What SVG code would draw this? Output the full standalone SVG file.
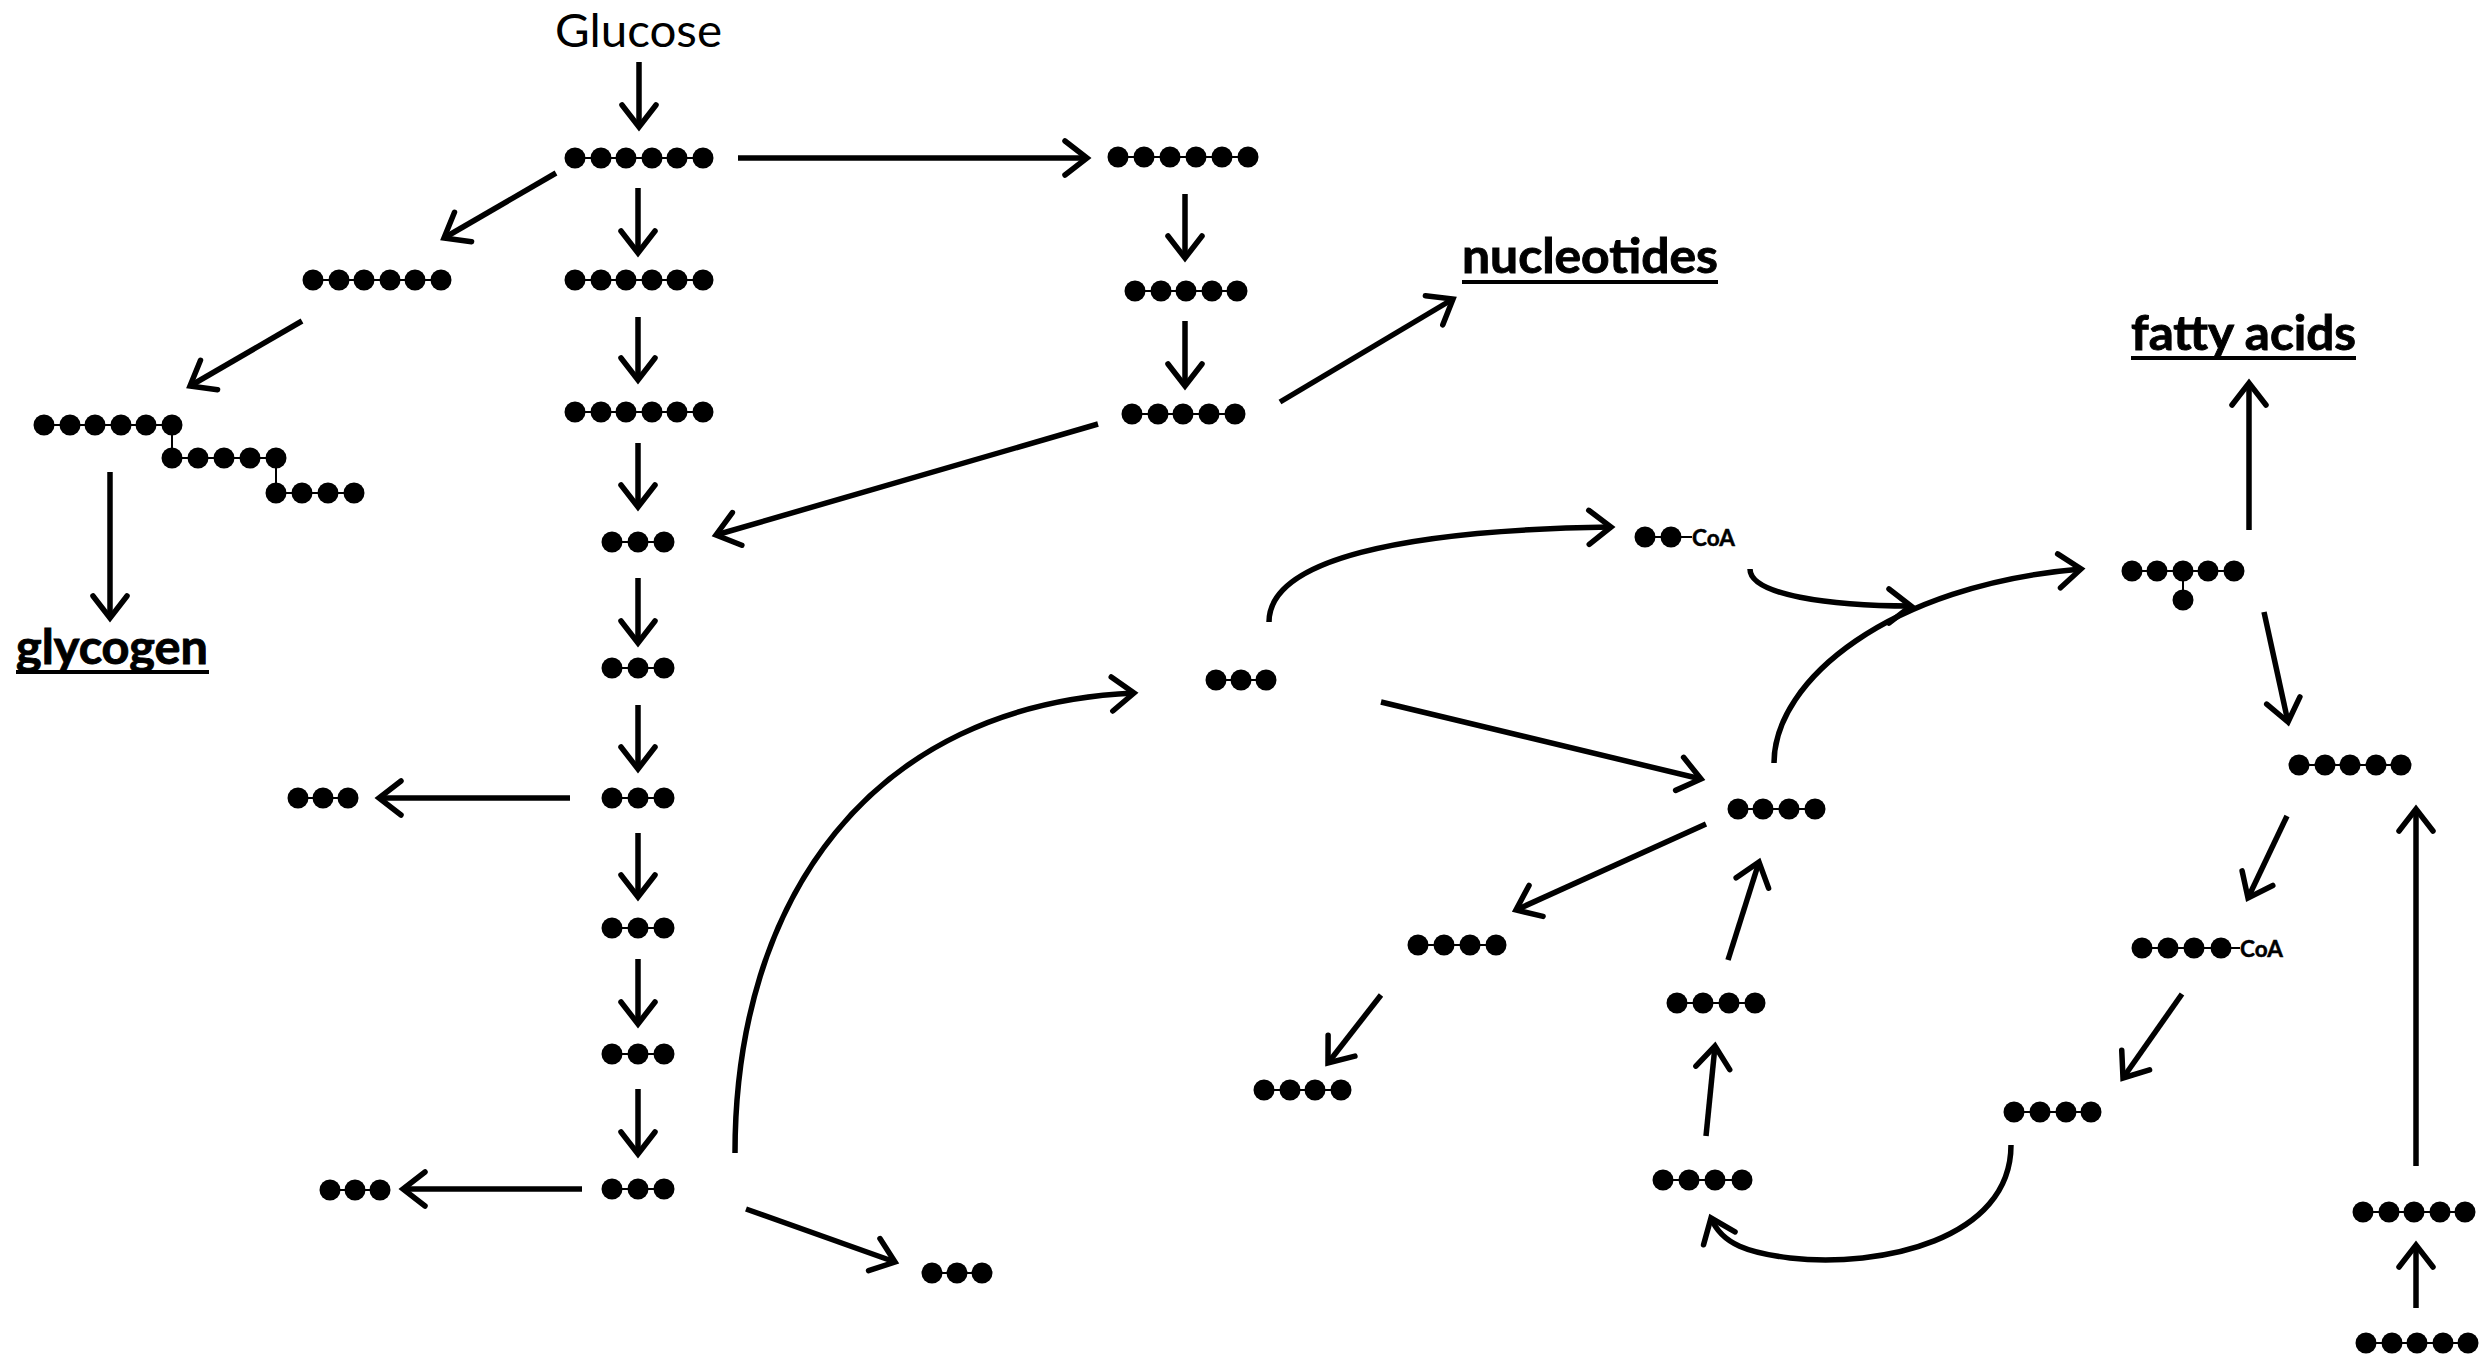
<svg xmlns="http://www.w3.org/2000/svg" width="2488" height="1366" viewBox="0 0 2488 1366">
  <defs>
    <style>
      .bond { stroke: #000; stroke-width: 2; }
      .atom { fill: #000; }
      .arrow { fill: none; stroke: #000; stroke-width: 5.5; marker-end: url(#head); }
      .label { font-family: Lato, "Open Sans", "Liberation Sans", sans-serif; fill: #000; }
      .big { font-size: 47px; }
      .bold { font-weight: bold; stroke: #000; stroke-width: 0.9; }
      .coa { font-size: 23px; font-weight: bold; stroke: #000; stroke-width: 0.5; }
    </style>
    <marker id="head" markerUnits="userSpaceOnUse" orient="auto" refX="0" refY="0" markerWidth="40" markerHeight="40" viewBox="-30 -20 40 40" overflow="visible">
      <path d="M-22,-17 L0,0 L-22,17" fill="none" stroke="#000" stroke-width="5.5" stroke-linecap="round" stroke-linejoin="miter"/>
    </marker>
  </defs>
  <rect width="2488" height="1366" fill="#fff"/>

  <!-- labels -->
  <g id="glucose">
    <text class="label big" x="555" y="47" textLength="167" lengthAdjust="spacingAndGlyphs">Glucose</text>
  </g>
  <g id="glycogen-label">
    <text class="label big bold" x="16" y="664" textLength="192" lengthAdjust="spacingAndGlyphs">glycogen</text>
    <rect x="16" y="670" width="193" height="4"/>
  </g>
  <g id="nucleotides">
    <text class="label big bold" x="1462" y="273" textLength="256" lengthAdjust="spacingAndGlyphs">nucleotides</text>
    <rect x="1462" y="280" width="256" height="4"/>
  </g>
  <g id="fatty-acids">
    <text class="label big bold" x="2131" y="350" textLength="225" lengthAdjust="spacingAndGlyphs">fatty acids</text>
    <rect x="2131" y="356" width="225" height="4"/>
  </g>

  <!-- glycolysis column -->
  <g id="hexose1"><line class="bond" x1="575" y1="158" x2="703" y2="158"/>
    <circle class="atom" cx="575" cy="158" r="10.5"/><circle class="atom" cx="601" cy="158" r="10.5"/><circle class="atom" cx="626" cy="158" r="10.5"/><circle class="atom" cx="652" cy="158" r="10.5"/><circle class="atom" cx="677" cy="158" r="10.5"/><circle class="atom" cx="703" cy="158" r="10.5"/></g>
  <g id="hexose2"><line class="bond" x1="575" y1="280" x2="703" y2="280"/>
    <circle class="atom" cx="575" cy="280" r="10.5"/><circle class="atom" cx="601" cy="280" r="10.5"/><circle class="atom" cx="626" cy="280" r="10.5"/><circle class="atom" cx="652" cy="280" r="10.5"/><circle class="atom" cx="677" cy="280" r="10.5"/><circle class="atom" cx="703" cy="280" r="10.5"/></g>
  <g id="hexose3"><line class="bond" x1="575" y1="412" x2="703" y2="412"/>
    <circle class="atom" cx="575" cy="412" r="10.5"/><circle class="atom" cx="601" cy="412" r="10.5"/><circle class="atom" cx="626" cy="412" r="10.5"/><circle class="atom" cx="652" cy="412" r="10.5"/><circle class="atom" cx="677" cy="412" r="10.5"/><circle class="atom" cx="703" cy="412" r="10.5"/></g>
  <g id="triose1"><line class="bond" x1="612" y1="542" x2="664" y2="542"/>
    <circle class="atom" cx="612" cy="542" r="10.5"/><circle class="atom" cx="638" cy="542" r="10.5"/><circle class="atom" cx="664" cy="542" r="10.5"/></g>
  <g id="triose2"><line class="bond" x1="612" y1="668" x2="664" y2="668"/>
    <circle class="atom" cx="612" cy="668" r="10.5"/><circle class="atom" cx="638" cy="668" r="10.5"/><circle class="atom" cx="664" cy="668" r="10.5"/></g>
  <g id="triose3"><line class="bond" x1="612" y1="798" x2="664" y2="798"/>
    <circle class="atom" cx="612" cy="798" r="10.5"/><circle class="atom" cx="638" cy="798" r="10.5"/><circle class="atom" cx="664" cy="798" r="10.5"/></g>
  <g id="triose4"><line class="bond" x1="612" y1="928" x2="664" y2="928"/>
    <circle class="atom" cx="612" cy="928" r="10.5"/><circle class="atom" cx="638" cy="928" r="10.5"/><circle class="atom" cx="664" cy="928" r="10.5"/></g>
  <g id="triose5"><line class="bond" x1="612" y1="1054" x2="664" y2="1054"/>
    <circle class="atom" cx="612" cy="1054" r="10.5"/><circle class="atom" cx="638" cy="1054" r="10.5"/><circle class="atom" cx="664" cy="1054" r="10.5"/></g>
  <g id="pyruvate-cyto"><line class="bond" x1="612" y1="1189" x2="664" y2="1189"/>
    <circle class="atom" cx="612" cy="1189" r="10.5"/><circle class="atom" cx="638" cy="1189" r="10.5"/><circle class="atom" cx="664" cy="1189" r="10.5"/></g>
  <g id="glycerol"><line class="bond" x1="298" y1="798" x2="348" y2="798"/>
    <circle class="atom" cx="298" cy="798" r="10.5"/><circle class="atom" cx="323" cy="798" r="10.5"/><circle class="atom" cx="348" cy="798" r="10.5"/></g>
  <g id="lactate"><line class="bond" x1="330" y1="1190" x2="380" y2="1190"/>
    <circle class="atom" cx="330" cy="1190" r="10.5"/><circle class="atom" cx="355" cy="1190" r="10.5"/><circle class="atom" cx="380" cy="1190" r="10.5"/></g>
  <g id="alanine"><line class="bond" x1="932" y1="1273" x2="982" y2="1273"/>
    <circle class="atom" cx="932" cy="1273" r="10.5"/><circle class="atom" cx="957" cy="1273" r="10.5"/><circle class="atom" cx="982" cy="1273" r="10.5"/></g>

  <!-- glycogen branch -->
  <g id="hexose-p1"><line class="bond" x1="313" y1="280" x2="441" y2="280"/>
    <circle class="atom" cx="313" cy="280" r="10.5"/><circle class="atom" cx="339" cy="280" r="10.5"/><circle class="atom" cx="364" cy="280" r="10.5"/><circle class="atom" cx="390" cy="280" r="10.5"/><circle class="atom" cx="415" cy="280" r="10.5"/><circle class="atom" cx="441" cy="280" r="10.5"/></g>
  <g id="glycogen-chain">
    <line class="bond" x1="44" y1="425" x2="172" y2="425"/>
    <line class="bond" x1="172" y1="425" x2="172" y2="458"/>
    <line class="bond" x1="172" y1="458" x2="276" y2="458"/>
    <line class="bond" x1="276" y1="458" x2="276" y2="493"/>
    <line class="bond" x1="276" y1="493" x2="354" y2="493"/>
    <circle class="atom" cx="44" cy="425" r="10.5"/><circle class="atom" cx="70" cy="425" r="10.5"/><circle class="atom" cx="95" cy="425" r="10.5"/><circle class="atom" cx="121" cy="425" r="10.5"/><circle class="atom" cx="146" cy="425" r="10.5"/><circle class="atom" cx="172" cy="425" r="10.5"/>
    <circle class="atom" cx="172" cy="458" r="10.5"/><circle class="atom" cx="198" cy="458" r="10.5"/><circle class="atom" cx="224" cy="458" r="10.5"/><circle class="atom" cx="250" cy="458" r="10.5"/><circle class="atom" cx="276" cy="458" r="10.5"/>
    <circle class="atom" cx="276" cy="493" r="10.5"/><circle class="atom" cx="302" cy="493" r="10.5"/><circle class="atom" cx="328" cy="493" r="10.5"/><circle class="atom" cx="354" cy="493" r="10.5"/>
  </g>

  <!-- pentose phosphate branch -->
  <g id="hexose-ppp"><line class="bond" x1="1118" y1="157" x2="1248" y2="157"/>
    <circle class="atom" cx="1118" cy="157" r="10.5"/><circle class="atom" cx="1144" cy="157" r="10.5"/><circle class="atom" cx="1170" cy="157" r="10.5"/><circle class="atom" cx="1196" cy="157" r="10.5"/><circle class="atom" cx="1222" cy="157" r="10.5"/><circle class="atom" cx="1248" cy="157" r="10.5"/></g>
  <g id="pentose1"><line class="bond" x1="1135" y1="291" x2="1237" y2="291"/>
    <circle class="atom" cx="1135" cy="291" r="10.5"/><circle class="atom" cx="1161" cy="291" r="10.5"/><circle class="atom" cx="1186" cy="291" r="10.5"/><circle class="atom" cx="1212" cy="291" r="10.5"/><circle class="atom" cx="1237" cy="291" r="10.5"/></g>
  <g id="pentose2"><line class="bond" x1="1132" y1="414" x2="1235" y2="414"/>
    <circle class="atom" cx="1132" cy="414" r="10.5"/><circle class="atom" cx="1158" cy="414" r="10.5"/><circle class="atom" cx="1183" cy="414" r="10.5"/><circle class="atom" cx="1209" cy="414" r="10.5"/><circle class="atom" cx="1235" cy="414" r="10.5"/></g>

  <!-- mitochondrial pathway -->
  <g id="pyruvate"><line class="bond" x1="1216" y1="680" x2="1266" y2="680"/>
    <circle class="atom" cx="1216" cy="680" r="10.5"/><circle class="atom" cx="1241" cy="680" r="10.5"/><circle class="atom" cx="1266" cy="680" r="10.5"/></g>
  <g id="acetyl-coa"><line class="bond" x1="1645" y1="537" x2="1692" y2="537"/>
    <circle class="atom" cx="1645" cy="537" r="10.5"/><circle class="atom" cx="1671" cy="537" r="10.5"/>
    <text class="label coa" x="1692" y="546" textLength="43" lengthAdjust="spacingAndGlyphs">CoA</text></g>
  <g id="citrate"><line class="bond" x1="2132" y1="571" x2="2234" y2="571"/><line class="bond" x1="2183" y1="571" x2="2183" y2="600"/>
    <circle class="atom" cx="2132" cy="571" r="10.5"/><circle class="atom" cx="2157" cy="571" r="10.5"/><circle class="atom" cx="2183" cy="571" r="10.5"/><circle class="atom" cx="2208" cy="571" r="10.5"/><circle class="atom" cx="2234" cy="571" r="10.5"/><circle class="atom" cx="2183" cy="600" r="10.5"/></g>
  <g id="alpha-kg"><line class="bond" x1="2299" y1="765" x2="2401" y2="765"/>
    <circle class="atom" cx="2299" cy="765" r="10.5"/><circle class="atom" cx="2325" cy="765" r="10.5"/><circle class="atom" cx="2350" cy="765" r="10.5"/><circle class="atom" cx="2376" cy="765" r="10.5"/><circle class="atom" cx="2401" cy="765" r="10.5"/></g>
  <g id="succinyl-coa"><line class="bond" x1="2142" y1="948" x2="2240" y2="948"/>
    <circle class="atom" cx="2142" cy="948" r="10.5"/><circle class="atom" cx="2168" cy="948" r="10.5"/><circle class="atom" cx="2194" cy="948" r="10.5"/><circle class="atom" cx="2221" cy="948" r="10.5"/>
    <text class="label coa" x="2240" y="957" textLength="43" lengthAdjust="spacingAndGlyphs">CoA</text></g>
  <g id="succinate"><line class="bond" x1="2014" y1="1112" x2="2091" y2="1112"/>
    <circle class="atom" cx="2014" cy="1112" r="10.5"/><circle class="atom" cx="2040" cy="1112" r="10.5"/><circle class="atom" cx="2066" cy="1112" r="10.5"/><circle class="atom" cx="2091" cy="1112" r="10.5"/></g>
  <g id="fumarate"><line class="bond" x1="1663" y1="1180" x2="1742" y2="1180"/>
    <circle class="atom" cx="1663" cy="1180" r="10.5"/><circle class="atom" cx="1689" cy="1180" r="10.5"/><circle class="atom" cx="1715" cy="1180" r="10.5"/><circle class="atom" cx="1742" cy="1180" r="10.5"/></g>
  <g id="malate"><line class="bond" x1="1677" y1="1003" x2="1755" y2="1003"/>
    <circle class="atom" cx="1677" cy="1003" r="10.5"/><circle class="atom" cx="1703" cy="1003" r="10.5"/><circle class="atom" cx="1729" cy="1003" r="10.5"/><circle class="atom" cx="1755" cy="1003" r="10.5"/></g>
  <g id="oxaloacetate"><line class="bond" x1="1738" y1="809" x2="1815" y2="809"/>
    <circle class="atom" cx="1738" cy="809" r="10.5"/><circle class="atom" cx="1763" cy="809" r="10.5"/><circle class="atom" cx="1789" cy="809" r="10.5"/><circle class="atom" cx="1815" cy="809" r="10.5"/></g>
  <g id="aspartate"><line class="bond" x1="1418" y1="945" x2="1496" y2="945"/>
    <circle class="atom" cx="1418" cy="945" r="10.5"/><circle class="atom" cx="1444" cy="945" r="10.5"/><circle class="atom" cx="1470" cy="945" r="10.5"/><circle class="atom" cx="1496" cy="945" r="10.5"/></g>
  <g id="asparagine"><line class="bond" x1="1264" y1="1090" x2="1341" y2="1090"/>
    <circle class="atom" cx="1264" cy="1090" r="10.5"/><circle class="atom" cx="1290" cy="1090" r="10.5"/><circle class="atom" cx="1315" cy="1090" r="10.5"/><circle class="atom" cx="1341" cy="1090" r="10.5"/></g>
  <g id="glutamate"><line class="bond" x1="2363" y1="1212" x2="2465" y2="1212"/>
    <circle class="atom" cx="2363" cy="1212" r="10.5"/><circle class="atom" cx="2389" cy="1212" r="10.5"/><circle class="atom" cx="2414" cy="1212" r="10.5"/><circle class="atom" cx="2440" cy="1212" r="10.5"/><circle class="atom" cx="2465" cy="1212" r="10.5"/></g>
  <g id="glutamine"><line class="bond" x1="2366" y1="1343" x2="2468" y2="1343"/>
    <circle class="atom" cx="2366" cy="1343" r="10.5"/><circle class="atom" cx="2392" cy="1343" r="10.5"/><circle class="atom" cx="2417" cy="1343" r="10.5"/><circle class="atom" cx="2443" cy="1343" r="10.5"/><circle class="atom" cx="2468" cy="1343" r="10.5"/></g>

  <!-- connectors -->
  <g id="connectors">
    <path class="arrow" d="M639,62 L639,127"/>
    <path class="arrow" d="M638,188 L638,253"/>
    <path class="arrow" d="M638,317 L638,380"/>
    <path class="arrow" d="M638,443 L638,507"/>
    <path class="arrow" d="M638,578 L638,643"/>
    <path class="arrow" d="M638,705 L638,769"/>
    <path class="arrow" d="M638,833 L638,897"/>
    <path class="arrow" d="M638,959 L638,1024"/>
    <path class="arrow" d="M638,1089 L638,1154"/>
    <path class="arrow" d="M570,798 L379,798"/>
    <path class="arrow" d="M582,1189 L403,1189"/>
    <path class="arrow" d="M746,1209 L895,1262"/>
    <path class="arrow" d="M735,1153 C735,900 870,705 1134,693"/>
    <path class="arrow" d="M738,158 L1087,158"/>
    <path class="arrow" d="M556,173 L444,238"/>
    <path class="arrow" d="M302,321 L190,386"/>
    <path class="arrow" d="M110,472 L110,618"/>
    <path class="arrow" d="M1185,194 L1185,258"/>
    <path class="arrow" d="M1185,321 L1185,386"/>
    <path class="arrow" d="M1280,402 L1453,299"/>
    <path class="arrow" d="M1098,424 L716,535"/>
    <path class="arrow" d="M1269,622 C1269,560 1400,530 1611,527"/>
    <path class="arrow" d="M1750,569 C1750,595 1830,606 1911,606"/>
    <path class="arrow" d="M1774,763 C1774,680 1890,585 2081,569"/>
    <path class="arrow" d="M2249,530 L2249,383"/>
    <path class="arrow" d="M2264,612 L2288,722"/>
    <path class="arrow" d="M2287,816 L2248,898"/>
    <path class="arrow" d="M2182,994 L2123,1078"/>
    <path class="arrow" d="M2011,1145 C2011,1240 1880,1268 1790,1258 C1750,1253 1722,1245 1711,1218"/>
    <path class="arrow" d="M1706,1136 L1715,1046"/>
    <path class="arrow" d="M1728,960 L1759,862"/>
    <path class="arrow" d="M1706,824 L1516,910"/>
    <path class="arrow" d="M1381,995 L1328,1063"/>
    <path class="arrow" d="M1381,702 L1701,779"/>
    <path class="arrow" d="M2416,1166 L2416,809"/>
    <path class="arrow" d="M2416,1308 L2416,1245"/>
  </g>
</svg>
